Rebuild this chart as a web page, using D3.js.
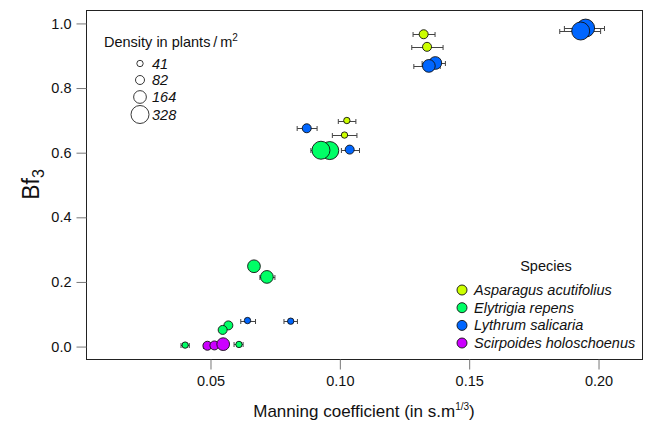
<!DOCTYPE html>
<html>
<head>
<meta charset="utf-8">
<script src="https://cdn.jsdelivr.net/npm/d3@7"></script>
<style>
  html, body { margin: 0; padding: 0; background: #fff; }
  svg { display: block; font-family: "Liberation Sans", Arial, Helvetica, sans-serif; }
</style>
</head>
<body>
<svg id="chart" width="649" height="423"></svg>
<script>
// ---- Data ----
const speciesNames = ["Asparagus acutifolius", "Elytrigia repens", "Lythrum salicaria", "Scirpoides holoschoenus"];
const speciesColors = ["#CCFF00", "#00FF66", "#0066FF", "#CC00FF"];
const densityLevels = [41, 82, 164, 328];

// points (in drawing order)
const ptSpecies = [2, 2, 0, 0, 2, 2, 0, 0, 2, 1, 1, 2, 1, 1, 2, 2, 1, 1, 1, 1, 3, 3, 3];
const ptManning = [0.1952, 0.1933, 0.1326, 0.1339, 0.1371, 0.1346, 0.1029, 0.1020, 0.0874, 0.0963, 0.0929, 0.1040, 0.0670, 0.0720, 0.0645, 0.0812, 0.0571, 0.0549, 0.0404, 0.0612, 0.0490, 0.0517, 0.0551];
const ptBf3     = [0.984, 0.975, 0.965, 0.926, 0.876, 0.867, 0.698, 0.653, 0.674, 0.605, 0.606, 0.608, 0.247, 0.214, 0.079, 0.077, 0.064, 0.050, 0.003, 0.005, 0.001, 0.002, 0.006];
const ptDensity = [328, 328, 82, 82, 164, 164, 41, 41, 82, 328, 328, 82, 164, 164, 41, 41, 82, 82, 41, 41, 82, 82, 164];
const ptLow     = [0.1870, 0.1852, 0.1285, 0.1280, 0.1320, 0.1288, 0.0996, 0.0973, 0.0837, 0.0930, 0.0890, 0.1008, 0.0660, 0.0693, 0.0619, 0.0786, 0.0560, 0.0540, 0.0388, 0.0593, 0.0475, 0.0505, 0.0540];
const ptHigh    = [0.2025, 0.2010, 0.1370, 0.1401, 0.1410, 0.1390, 0.1064, 0.1068, 0.0914, 0.0990, 0.0960, 0.1078, 0.0680, 0.0751, 0.0676, 0.0838, 0.0580, 0.0560, 0.0420, 0.0628, 0.0500, 0.0530, 0.0560];

const xTicks = [0.05, 0.10, 0.15, 0.20];
const xTickLabels = ["0.05", "0.10", "0.15", "0.20"];
const yTicks = [0, 0.2, 0.4, 0.6, 0.8, 1.0];
const yTickLabels = ["0.0", "0.2", "0.4", "0.6", "0.8", "1.0"];

const points = ptManning.map((m, i) => ({
  sp: ptSpecies[i], x: m, y: ptBf3[i], d: ptDensity[i], lo: ptLow[i], hi: ptHigh[i]
}));

// ---- Layout ----
const svg = d3.select("#chart");
const box = { left: 86, right: 642, top: 10, bottom: 359 };

const x = d3.scaleLinear().domain([0.00207, 0.2170]).range([box.left, box.right]);
const y = d3.scaleLinear().domain([-0.04, 1.04]).range([box.bottom, box.top]);
const r = d3.scaleSqrt().domain([0, 328]).range([0, 9]);

// box
svg.append("rect")
  .attr("x", box.left + 0.5).attr("y", box.top + 0.5)
  .attr("width", box.right - box.left).attr("height", box.bottom - box.top)
  .attr("fill", "none").attr("stroke", "#222").attr("stroke-width", 1);

// axes
const xAxis = d3.axisBottom(x).tickValues(xTicks).tickFormat((d, i) => xTickLabels[i]).tickSize(10).tickPadding(6);
const gx = svg.append("g").attr("transform", `translate(0.5,${box.bottom + 0.5})`).call(xAxis);
const yAxis = d3.axisLeft(y).tickValues(yTicks).tickFormat((d, i) => yTickLabels[i]).tickSize(10).tickPadding(5);
const gy = svg.append("g").attr("transform", `translate(${box.left + 0.5},0.5)`).call(yAxis);
[gx, gy].forEach(g => {
  g.select(".domain").remove();
  g.selectAll(".tick line").attr("stroke", "#777");
  g.selectAll(".tick text").attr("font-size", 14.5).attr("fill", "#111")
    .attr("font-family", "'Liberation Sans', Arial, sans-serif");
});

// error bars
const eb = svg.append("g").attr("stroke", "#444").attr("stroke-width", 1).attr("fill", "none");
points.forEach(p => {
  const yy = Math.round(y(p.y)) + 0.5;
  eb.append("line").attr("x1", x(p.lo)).attr("x2", x(p.hi)).attr("y1", yy).attr("y2", yy);
  eb.append("line").attr("x1", x(p.lo)).attr("x2", x(p.lo)).attr("y1", yy - 2.5).attr("y2", yy + 2.5);
  eb.append("line").attr("x1", x(p.hi)).attr("x2", x(p.hi)).attr("y1", yy - 2.5).attr("y2", yy + 2.5);
});

// points
svg.append("g").selectAll("circle").data(points).join("circle")
  .attr("cx", d => x(d.x)).attr("cy", d => y(d.y)).attr("r", d => r(d.d))
  .attr("fill", d => speciesColors[d.sp]).attr("stroke", "#111").attr("stroke-width", 0.9);

// axis titles
const xt = svg.append("text").attr("x", (box.left + box.right) / 2).attr("y", 417)
  .attr("text-anchor", "middle").attr("font-size", 17).attr("fill", "#111");
xt.append("tspan").text("Manning coefficient (in s.m");
xt.append("tspan").attr("font-size", 10).attr("dy", -7).text("1/3");
xt.append("tspan").attr("dy", 7).text(")");

const yt = svg.append("text").attr("transform", `translate(39,${(box.top + box.bottom) / 2}) rotate(-90)`)
  .attr("text-anchor", "middle").attr("font-size", 23).attr("fill", "#111");
yt.append("tspan").text("Bf");
yt.append("tspan").attr("font-size", 16).attr("dy", 5).text("3");

// density legend
const dl = svg.append("g");
const dt = dl.append("text").attr("x", 104).attr("y", 47).attr("font-size", 14.5).attr("fill", "#111");
dt.append("tspan").text("Density in plants\u2009/\u2009m");
dt.append("tspan").attr("font-size", 10).attr("dy", -6).text("2");
const dY = [63.5, 80, 97, 114.5];
densityLevels.forEach((d, i) => {
  dl.append("circle").attr("cx", 140).attr("cy", dY[i]).attr("r", r(d))
    .attr("fill", "none").attr("stroke", "#222").attr("stroke-width", 0.9);
  dl.append("text").attr("x", 152).attr("y", dY[i] + 5).attr("font-size", 14.5)
    .attr("font-style", "italic").attr("fill", "#111").text(d);
});

// species legend
const sl = svg.append("g");
sl.append("text").attr("x", 546).attr("y", 271).attr("text-anchor", "middle")
  .attr("font-size", 14.5).attr("fill", "#111").text("Species");
const sY = [290, 307.7, 325.4, 343];
speciesNames.forEach((s, i) => {
  sl.append("circle").attr("cx", 462).attr("cy", sY[i]).attr("r", 5)
    .attr("fill", speciesColors[i]).attr("stroke", "#111").attr("stroke-width", 0.9);
  sl.append("text").attr("x", 474).attr("y", sY[i] + 5).attr("font-size", 14.5)
    .attr("font-style", "italic").attr("fill", "#111").text(s);
});
</script>
</body>
</html>
